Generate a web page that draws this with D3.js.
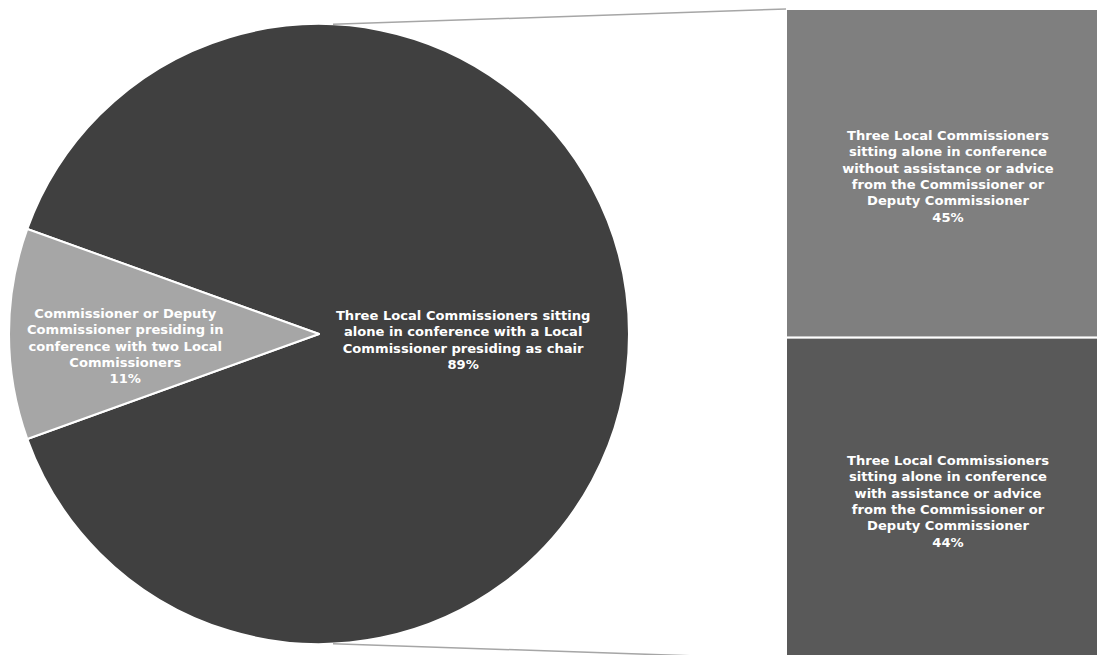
<!DOCTYPE html>
<html><head><meta charset="utf-8">
<script src="https://cdn.jsdelivr.net/npm/d3@7"></script>
<style>html,body{margin:0;padding:0;background:#fff;}svg{display:block;}</style>
</head><body>
<svg id="chart" width="1097" height="655"></svg>
<script>
// Pie data
const pieCategories = [
  "Three Local Commissioners sitting|alone in conference with a Local|Commissioner presiding as chair",
  "Commissioner or Deputy|Commissioner presiding in|conference with two Local|Commissioners"
];
const pieValues = [89, 11];
const pieColors = ["#404040", "#a6a6a6"];

// Bar (breakdown of the 89%) data
const barCategories = [
  "Three Local Commissioners|sitting alone in conference|without assistance or advice|from the Commissioner or|Deputy Commissioner",
  "Three Local Commissioners|sitting alone in conference|with assistance or advice|from the Commissioner or|Deputy Commissioner"
];
const barValues = [45, 44];
const barColors = ["#7f7f7f", "#595959"];

const svg = d3.select("#chart");
const cx = 319, cy = 334, R = 310;
const barX = 786, barW = 324, barTop = 9, barH = 650;
const font = "'DejaVu Sans', Verdana, sans-serif";
const fs = 13.1, lh = 16.3;

const lightFrac = pieValues[1] / d3.sum(pieValues);
const start = -Math.PI / 2 + lightFrac * Math.PI;
const pie = d3.pie().sort(null).startAngle(start).endAngle(start + 2 * Math.PI);
const arcs = pie(pieValues);
const arc = d3.arc().innerRadius(0).outerRadius(R);

const g = svg.append("g").attr("transform", `translate(${cx},${cy})`);
g.selectAll("path.slice").data(arcs).join("path")
  .attr("class", "slice")
  .attr("d", arc)
  .attr("fill", (d, i) => pieColors[i])
  .attr("stroke", "#fff").attr("stroke-width", 2).attr("stroke-linejoin", "round");

function drawLabel(parent, x, y, text, pct) {
  const lines = text.split("|").concat([pct + "%"]);
  const t = parent.append("text")
    .attr("x", x).attr("y", y)
    .attr("text-anchor", "middle")
    .attr("fill", "#fff")
    .style("font-family", font).style("font-weight", "bold").style("font-size", fs + "px");
  const n = lines.length;
  lines.forEach((l, i) => {
    t.append("tspan").attr("x", x)
      .attr("y", y + (i - (n - 1) / 2) * lh)
      .attr("dy", "0.35em")
      .text(l);
  });
}

// pie labels
const labelArcs = [
  d3.arc().innerRadius(R * 0.465).outerRadius(R * 0.465),
  d3.arc().innerRadius(R * 0.625).outerRadius(R * 0.625)
];
arcs.forEach((d, i) => {
  const [x, y] = labelArcs[i].centroid(d);
  drawLabel(g, x, y + (i === 0 ? 6 : 12), pieCategories[i], pieValues[i]);
});

// stacked bar
const y = d3.scaleLinear().domain([0, d3.sum(barValues)]).range([barTop, barTop + barH]);
const cum = d3.cumsum([0].concat(barValues));
const segs = barValues.map((v, i) => ({ v, i, y0: cum[i], y1: cum[i + 1] }));
svg.selectAll("rect.seg").data(segs).join("rect")
  .attr("class", "seg")
  .attr("x", barX).attr("width", barW)
  .attr("y", d => y(d.y0)).attr("height", d => y(d.y1) - y(d.y0))
  .attr("fill", d => barColors[d.i])
  .attr("stroke", "#fff").attr("stroke-width", 2);
segs.forEach(d => {
  drawLabel(svg, barX + barW / 2, (y(d.y0) + y(d.y1)) / 2 + 3, barCategories[d.i], d.v);
});

// connector lines
const off = 14;
const dyc = Math.sqrt(R * R - off * off);
const conn = [
  [[cx + off, cy - dyc], [barX, y(0)]],
  [[cx + off, cy + dyc], [barX, y(d3.sum(barValues))]]
];
svg.selectAll("line.conn").data(conn).join("line")
  .attr("class", "conn")
  .attr("x1", d => d[0][0]).attr("y1", d => d[0][1])
  .attr("x2", d => d[1][0]).attr("y2", d => d[1][1])
  .attr("stroke", "#a6a6a6").attr("stroke-width", 1.5);
</script>
</body></html>
